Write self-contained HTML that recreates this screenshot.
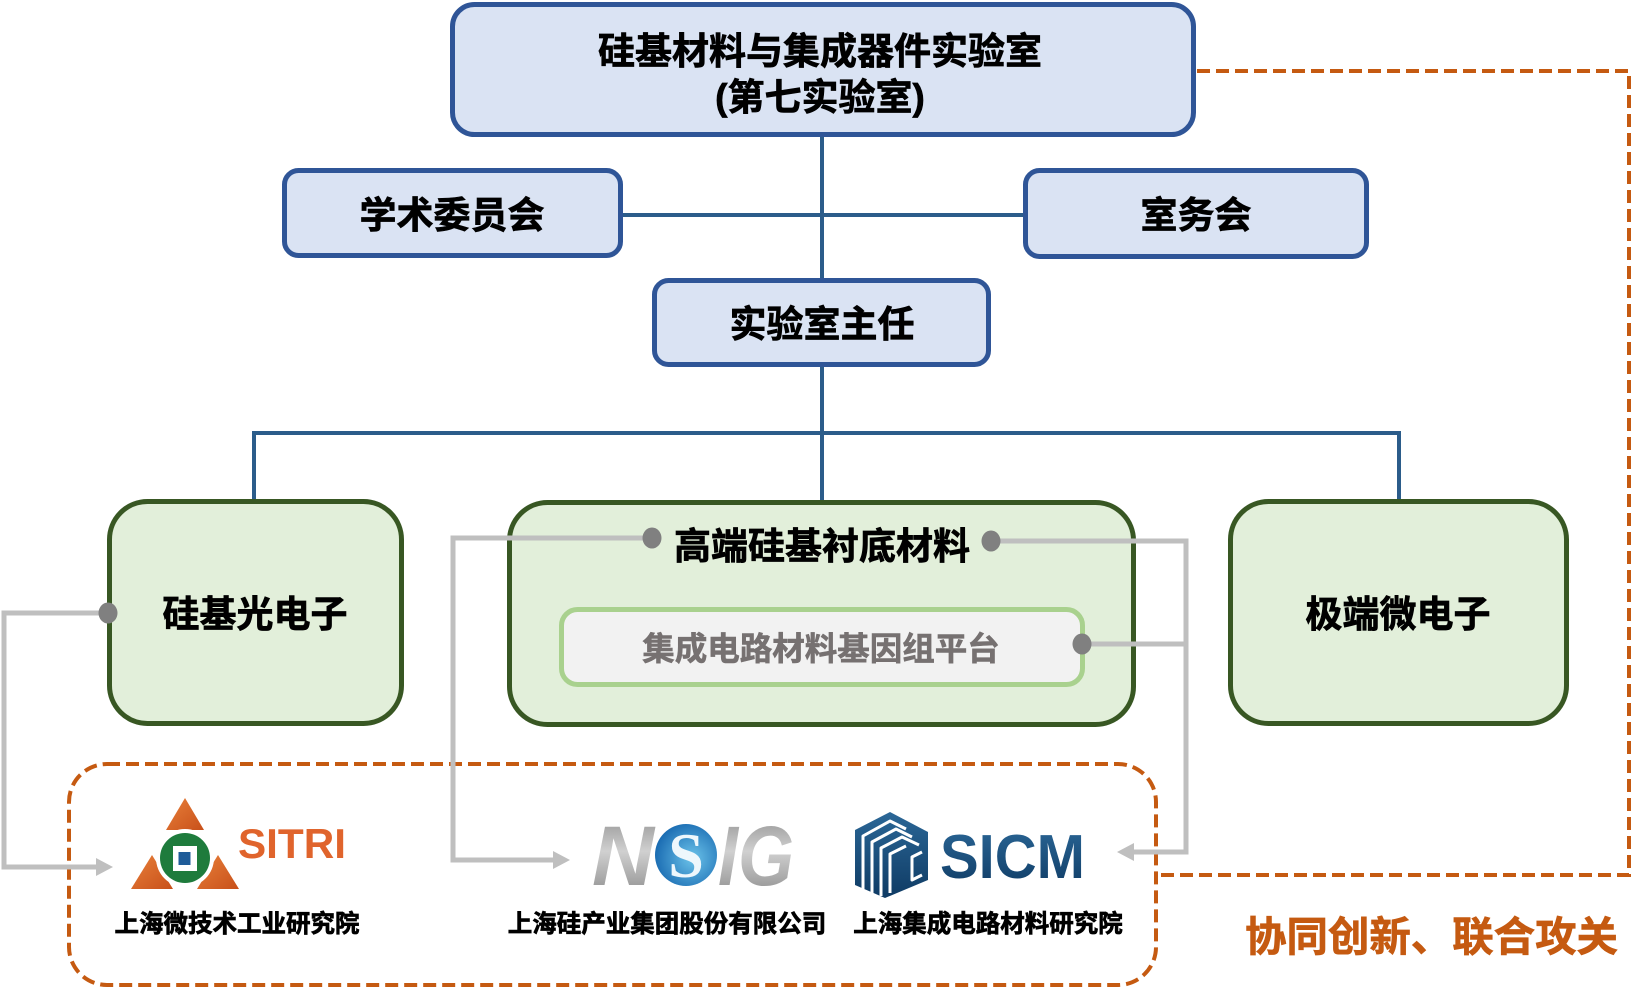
<!DOCTYPE html>
<html>
<head>
<meta charset="utf-8">
<style>
  html,body{margin:0;padding:0;background:#fff;}
  svg{display:block;}
  .t{font-family:"Liberation Sans","Noto Sans CJK SC",sans-serif;font-weight:bold;}
  .k{stroke:#000;stroke-width:0.7;}
</style>
</head>
<body>
<svg width="1644" height="988" viewBox="0 0 1644 988" xmlns="http://www.w3.org/2000/svg">
  <defs>
    <linearGradient id="gray" x1="0" y1="0" x2="0" y2="1">
      <stop offset="0" stop-color="#8a8a8a"/>
      <stop offset="0.45" stop-color="#d0d0d0"/>
      <stop offset="1" stop-color="#858585"/>
    </linearGradient>
    <radialGradient id="blueBall" cx="0.6" cy="0.55" r="0.6">
      <stop offset="0" stop-color="#6cc3ea"/>
      <stop offset="1" stop-color="#1b6db3"/>
    </radialGradient>
    <linearGradient id="sicm" x1="0" y1="0" x2="0" y2="1">
      <stop offset="0" stop-color="#2b6797"/>
      <stop offset="1" stop-color="#0f3b64"/>
    </linearGradient>
    <linearGradient id="orng" x1="0" y1="0" x2="1" y2="1">
      <stop offset="0" stop-color="#e8803a"/>
      <stop offset="1" stop-color="#c8501a"/>
    </linearGradient>
  </defs>

  <!-- blue connectors -->
  <g stroke="#2B5C8A" stroke-width="4" fill="none">
    <line x1="822" y1="137" x2="822" y2="280"/>
    <line x1="623" y1="215" x2="1024" y2="215"/>
    <line x1="822" y1="366" x2="822" y2="501"/>
    <polyline points="254,501 254,433 1399,433 1399,501"/>
  </g>

  <!-- orange dashed outer connector -->
  <polyline points="1197,71 1629,71 1629,875 1157,875" fill="none" stroke="#C55A11" stroke-width="4" stroke-dasharray="13 6"/>
  <!-- dashed partner box -->
  <rect x="69" y="764" width="1087" height="221" rx="38" ry="38" fill="none" stroke="#C55A11" stroke-width="4" stroke-dasharray="13 6"/>

  <!-- top box -->
  <rect x="452.5" y="4.5" width="741" height="130" rx="22" fill="#DAE3F3" stroke="#2F5597" stroke-width="5"/>
  <text class="t k" x="820" y="64" font-size="37" text-anchor="middle" fill="#000">硅基材料与集成器件实验室</text>
  <text class="t k" x="820" y="110" font-size="37" text-anchor="middle" fill="#000">(第七实验室)</text>

  <!-- committee boxes -->
  <rect x="284.5" y="170.5" width="336" height="85" rx="14" fill="#DAE3F3" stroke="#2F5597" stroke-width="5"/>
  <text class="t k" x="452" y="228" font-size="37" text-anchor="middle" fill="#000">学术委员会</text>
  <rect x="1025.5" y="170.5" width="341" height="86" rx="14" fill="#DAE3F3" stroke="#2F5597" stroke-width="5"/>
  <text class="t k" x="1196" y="228" font-size="37" text-anchor="middle" fill="#000">室务会</text>

  <!-- director -->
  <rect x="654.5" y="280.5" width="334" height="84" rx="14" fill="#DAE3F3" stroke="#2F5597" stroke-width="5"/>
  <text class="t k" x="822" y="337" font-size="37" text-anchor="middle" fill="#000">实验室主任</text>

  <!-- green boxes -->
  <rect x="109.5" y="501.5" width="292" height="222" rx="38" fill="#E2EFDA" stroke="#385723" stroke-width="5"/>
  <text class="t k" x="255" y="627" font-size="37" text-anchor="middle" fill="#000">硅基光电子</text>

  <rect x="509.5" y="502.5" width="624" height="222" rx="38" fill="#E2EFDA" stroke="#385723" stroke-width="5"/>
  <text class="t k" x="822" y="559" font-size="37" text-anchor="middle" fill="#000">高端硅基衬底材料</text>

  <rect x="561.5" y="609.5" width="521" height="75" rx="16" fill="#F2F2F2" stroke="#A9D18E" stroke-width="5"/>
  <text class="t" x="821" y="660" font-size="32.5" text-anchor="middle" fill="#767171" stroke="#767171" stroke-width="0.6">集成电路材料基因组平台</text>

  <rect x="1230.5" y="501.5" width="336" height="222" rx="38" fill="#E2EFDA" stroke="#385723" stroke-width="5"/>
  <text class="t k" x="1398" y="627" font-size="37" text-anchor="middle" fill="#000">极端微电子</text>

  <!-- gray connectors -->
  <g stroke="#BFBFBF" stroke-width="5" fill="none">
    <polyline points="108,613 4,613 4,867 98,867"/>
    <polyline points="652,538 453,538 453,860 555,860"/>
    <polyline points="991,541 1186,541 1186,852 1132,852"/>
    <line x1="1082" y1="644" x2="1186" y2="644"/>
  </g>
  <g fill="#BFBFBF">
    <polygon points="96,858 113,867 96,876"/>
    <polygon points="553,851 570,860 553,869"/>
    <polygon points="1134,843 1117,852 1134,861"/>
  </g>
  <g fill="#808080">
    <ellipse cx="108" cy="613" rx="9.5" ry="10.5"/>
    <ellipse cx="652" cy="538" rx="9.5" ry="10.5"/>
    <ellipse cx="991" cy="541" rx="9.5" ry="10.5"/>
    <ellipse cx="1082" cy="644" rx="9.5" ry="10.5"/>
  </g>

  <!-- SITRI logo -->
  <polygon points="185,798 166,830 204,830" fill="url(#orng)"/>
  <polygon points="131,889 173,889 152,855" fill="url(#orng)"/>
  <polygon points="197,889 239,889 218,855" fill="url(#orng)"/>
  <circle cx="185" cy="858" r="29" fill="#fff"/>
  <circle cx="185" cy="858" r="25" fill="#1E7B3C"/>
  <rect x="173" y="846" width="24" height="25" fill="#fff"/>
  <rect x="178.5" y="852" width="12" height="13" fill="#1F5C99"/>
  <text x="238" y="858" font-family="Liberation Sans, sans-serif" font-weight="bold" font-size="42" fill="#E0642C" textLength="108" lengthAdjust="spacingAndGlyphs">SITRI</text>
  <text class="t k" x="237" y="932" font-size="24.5" text-anchor="middle" fill="#000" stroke-width="0.5">上海微技术工业研究院</text>

  <!-- NSIG logo -->
  <text x="592" y="885" font-family="Liberation Sans, sans-serif" font-weight="bold" font-style="italic" font-size="84" fill="url(#gray)" textLength="62" lengthAdjust="spacingAndGlyphs">N</text>
  <circle cx="686" cy="855" r="31" fill="url(#blueBall)"/>
  <text x="686" y="877" font-family="Liberation Serif, serif" font-weight="bold" font-size="64" text-anchor="middle" fill="#eef7fc">S</text>
  <text x="718" y="885" font-family="Liberation Sans, sans-serif" font-weight="bold" font-style="italic" font-size="84" fill="url(#gray)" textLength="76" lengthAdjust="spacingAndGlyphs">IG</text>
  <text class="t k" x="667" y="932" font-size="24.5" text-anchor="middle" fill="#000" stroke-width="0.5">上海硅产业集团股份有限公司</text>

  <!-- SICM logo -->
  <polygon points="890,812 928,832 928,880 885,898 855,885 855,830" fill="url(#sicm)"/>
  <g stroke="#fff" stroke-width="3" fill="none" stroke-linejoin="round">
    <polyline points="863,889 863,836 890,821 906,829"/>
    <polyline points="872,893 872,842 896,829 912,837"/>
    <polyline points="881,896 881,848 902,837 919,845"/>
    <polyline points="890,893 890,854 906,846"/>
    <polyline points="922,852 912,857 912,880 922,875"/>
  </g>
  <text x="940" y="878" font-family="Liberation Sans, sans-serif" font-weight="bold" font-size="62" fill="url(#sicm)" textLength="145" lengthAdjust="spacingAndGlyphs">SICM</text>
  <text class="t k" x="988" y="932" font-size="24.5" text-anchor="middle" fill="#000" stroke-width="0.5">上海集成电路材料研究院</text>

  <!-- slogan -->
  <text class="t" x="1245" y="951" font-size="41" fill="#C55A11" stroke="#C55A11" stroke-width="0.7" textLength="373" lengthAdjust="spacingAndGlyphs">协同创新、联合攻关</text>
</svg>
</body>
</html>
